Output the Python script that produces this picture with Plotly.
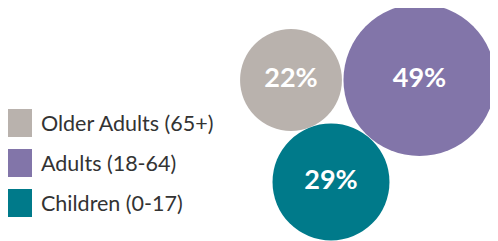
import math
import plotly.graph_objects as go

# ---- data ----
groups = ["Older Adults (65+)", "Adults (18-64)", "Children (0-17)"]
shares = [22, 49, 29]
share_labels = ["22%", "49%", "29%"]
colors = ["#B9B2AD", "#8275A9", "#007A8A"]

# ---- layout (page pixel space; page body has an 8px margin) ----
W, H = 498, 241
OFF = 8
bubble_x = [291, 419.5, 331]
bubble_y = [80, 80, 182]
px_per_sqrt = 10.86  # radius = k * sqrt(share)
diam = [2 * px_per_sqrt * math.sqrt(s) for s in shares]

legend_sq_x = 18
legend_y = [123, 163, 203]
legend_text_x = 39

fig = go.Figure()

fig.add_trace(go.Scatter(
    x=bubble_x, y=bubble_y, mode="markers+text",
    marker=dict(size=diam, color=colors, line=dict(width=0), opacity=1),
    text=share_labels, textposition="middle center",
    textfont=dict(family="Lato", size=27, color="white", weight="bold"),
    cliponaxis=False, hoverinfo="skip", showlegend=False,
))

fig.add_trace(go.Scatter(
    x=[legend_sq_x] * len(groups), y=legend_y, mode="markers",
    marker=dict(size=28, symbol="square", color=colors, line=dict(width=0)),
    cliponaxis=False, hoverinfo="skip", showlegend=False,
))

annotations = []
for g, y in zip(groups, legend_y):
    annotations.append(dict(
        x=legend_text_x, y=y, xref="x", yref="y", text=g, showarrow=False,
        xanchor="left", yanchor="middle",
        font=dict(family="Lato", size=21.5, color="#333333"),
    ))

fig.update_layout(
    width=W, height=H, margin=dict(l=0, r=0, t=0, b=0),
    paper_bgcolor="white", plot_bgcolor="white",
    xaxis=dict(range=[OFF, W + OFF], visible=False, fixedrange=True),
    yaxis=dict(range=[H + OFF, OFF], visible=False, fixedrange=True),
    annotations=annotations,
)

fig.write_html("out.html")
